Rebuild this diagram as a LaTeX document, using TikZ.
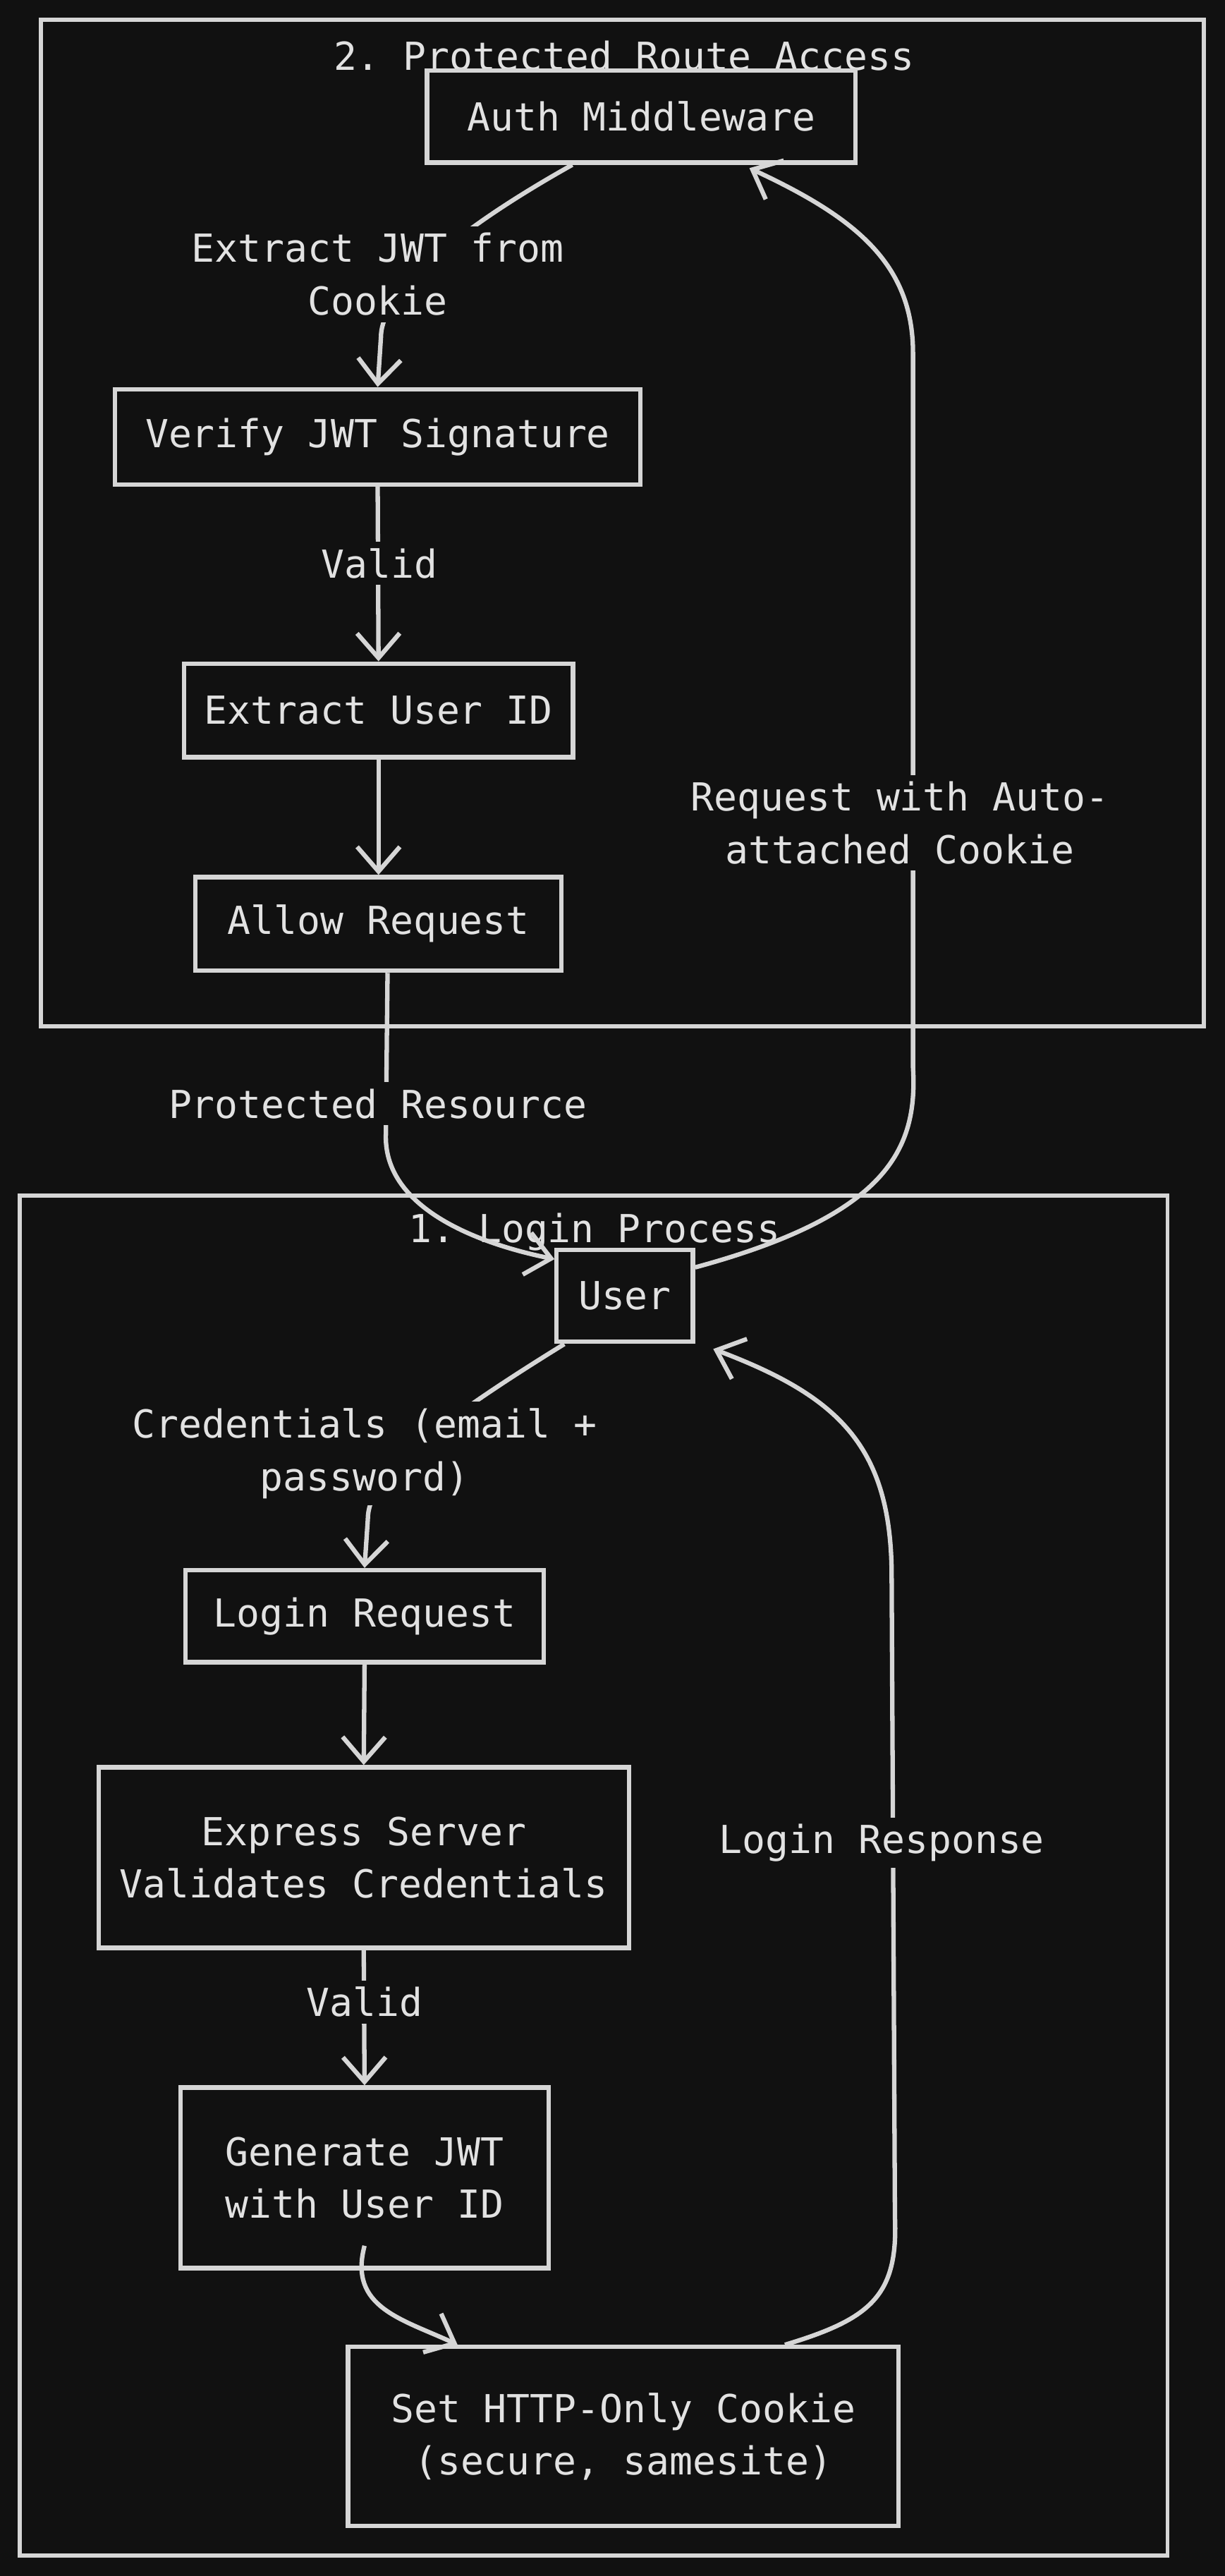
\documentclass[tikz,border=0pt]{standalone}
\usepackage{fontspec}
\setmonofont{DejaVu Sans Mono}
\usetikzlibrary{arrows.meta}
\definecolor{bg}{HTML}{111111}
\definecolor{ink}{HTML}{D6D6D6}
\definecolor{txt}{HTML}{E2E2E2}
\begin{document}
\begin{tikzpicture}[x=1pt,y=-1pt,
  every node/.style={text=txt, font=\ttfamily\fontsize{23.5}{32}\selectfont, inner sep=0pt},
  box/.style={draw=ink, line width=2.7pt, align=center},
  frame/.style={draw=ink, line width=2.5pt},
  edge/.style={draw=ink, line width=2.7pt},
  arr/.style={edge, -{Straight Barb[length=15pt,width=26pt,line width=2.7pt]}},
  lbl/.style={fill=bg, inner sep=4pt, align=center}
]
\fill[bg] (0,0) rectangle (746,1568.45);
\useasboundingbox (0,0) rectangle (746,1568.45);

% frames
\node[frame, minimum width=708pt, minimum height=613pt] (frameB) at (379,318.5) {};
\node[frame, minimum width=699pt, minimum height=828pt] (frameA) at (361.5,1142) {};
\node (titleB) at (380,34) {2. Protected Route Access};
\node (titleA) at (362,750) {1. Login Process};

% boxes - protected route
\node[box, minimum width=261pt, minimum height=56pt] (auth) at (390.5,71) {Auth Middleware};
\node[box, minimum width=320pt, minimum height=58pt] (verify) at (230,266) {Verify JWT Signature};
\node[box, minimum width=237pt, minimum height=57pt] (extract) at (230.5,432.5) {Extract User ID};
\node[box, minimum width=223pt, minimum height=57pt] (allow) at (230.5,562.5) {Allow Request};

% boxes - login
\node[box, minimum width=83pt, minimum height=56pt] (user) at (380.5,789) {User};
\node[box, minimum width=218pt, minimum height=56pt] (loginreq) at (222,984) {Login Request};
\node[box, minimum width=323pt, minimum height=110pt] (express) at (221.5,1131) {Express Server\\Validates Credentials};
\node[box, minimum width=224pt, minimum height=110pt] (generate) at (222,1326) {Generate JWT\\with User ID};
\node[box, minimum width=335pt, minimum height=109pt] (setck) at (379.5,1483.5) {Set HTTP-Only Cookie\\(secure, samesite)};

% edges
\draw[arr] ([xshift=-42pt]auth.south) .. controls (260,150) and (232,185) .. (232,205) -- (verify.north);
\node[lbl] (l1) at (230,167) {Extract JWT from\\Cookie};

\draw[arr] (verify.south) -- (extract.north);
\node[lbl] (l2) at (231,343) {Valid};

\draw[arr] (extract.south) -- (allow.north);

\draw[arr] ([xshift=5.5pt]allow.south) -- (235,690) .. controls (233,735) and (290,757) .. ([yshift=-7pt]user.north west);
\node[lbl] (l3) at (230,672) {Protected Resource};

\draw[arr] ([yshift=-12pt]user.north east) .. controls (540,740) and (559,700) .. (556,650) -- (556,215) .. controls (556,160) and (520,132) .. ([xshift=-66pt,yshift=-2pt]auth.south east);
\node[lbl] (l4) at (548,501) {Request with Auto-\\attached Cookie};

\draw[arr] ([xshift=6pt]user.south west) .. controls (260,870) and (224,900) .. (224,925) -- (loginreq.north);
\node[lbl] (l5) at (222,885) {Credentials (email +\\password)};

\draw[arr] (loginreq.south) -- (express.north);

\draw[arr] (express.south) -- (generate.north);
\node[lbl] (l6) at (222,1219) {Valid};

\draw[arr] ([yshift=15pt]generate.south) .. controls (212,1405) and (245,1412) .. ([xshift=68pt]setck.north west);

\draw[arr] ([xshift=98.5pt]setck.north) .. controls (530,1412) and (547,1398) .. (545,1350) -- (543,960) .. controls (543,880) and (510,850) .. ([xshift=11pt,yshift=-3pt]user.south east);
\node[lbl] (l7) at (537,1122) {Login Response};

\end{tikzpicture}
\end{document}
